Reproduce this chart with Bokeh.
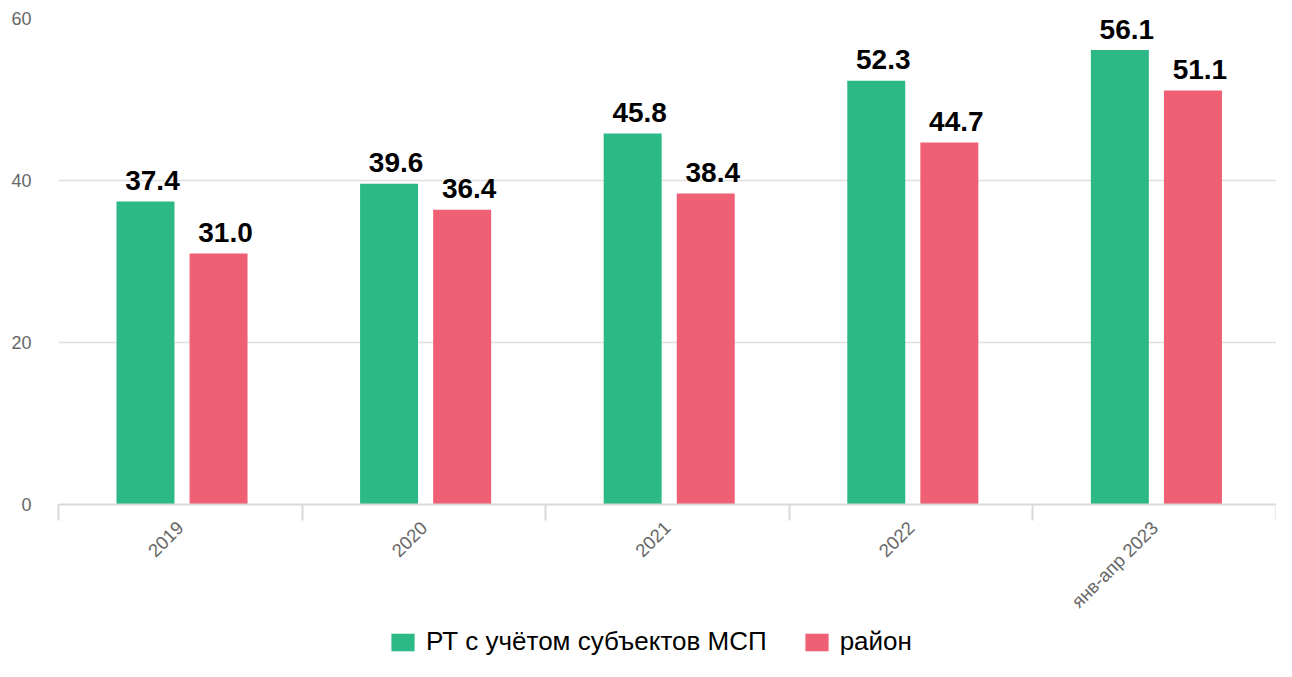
import math
from bokeh.plotting import figure
from bokeh.layouts import column
from bokeh.models import ColumnDataSource, FixedTicker, Legend, LegendItem, Range1d
from bokeh.core.properties import value
from bokeh.embed import file_html
from bokeh.resources import INLINE

categories = ["2019", "2020", "2021", "2022", "янв-апр 2023"]
rt_msp = [37.4, 39.6, 45.8, 52.3, 56.1]
rayon = [31.0, 36.4, 38.4, 44.7, 51.1]
series_names = ["РТ с учётом субъектов МСП", "район"]
y_ticks = [0, 20, 40, 60]

GREEN = "#2db986"
RED = "#ef6075"
FONT = "Liberation Sans"
W = 1276

n = len(categories)
centers = [i + 0.5 for i in range(n)]
boundaries = [float(i) for i in range(n + 1)]

src_g = ColumnDataSource(dict(x=[c - 0.143 for c in centers], top=rt_msp,
                              label=[f"{v:.1f}" for v in rt_msp]))
src_r = ColumnDataSource(dict(x=[c + 0.157 for c in centers], top=rayon,
                              label=[f"{v:.1f}" for v in rayon]))

p = figure(width=W, height=622, x_range=Range1d(0, n), y_range=Range1d(0, 60),
           output_backend="svg", toolbar_location=None,
           min_border_left=58, min_border_right=0, min_border_top=18, min_border_bottom=116)
p.outline_line_color = None
p.background_fill_color = "white"

r1 = p.vbar(x="x", top="top", bottom=0, width=0.238, source=src_g,
            fill_color=GREEN, line_color=None)
r2 = p.vbar(x="x", top="top", bottom=0, width=0.238, source=src_r,
            fill_color=RED, line_color=None)

for src in (src_g, src_r):
    p.text(x="x", y="top", text="label", source=src,
           text_font=value(FONT), text_font_style="bold", text_font_size="28px",
           text_align="center", text_baseline="alphabetic",
           x_offset=7, y_offset=-21, text_color="black")

# x axis
p.xaxis.ticker = FixedTicker(ticks=centers, minor_ticks=boundaries)
p.xaxis.major_label_overrides = {c: cat for c, cat in zip(centers, categories)}
p.xaxis.axis_line_color = "#d9d9d9"
p.xaxis.axis_line_width = 2
p.xaxis.major_tick_line_color = None
p.xaxis.major_tick_out = 16
p.xaxis.major_tick_in = 0
p.xaxis.minor_tick_line_color = "#d9d9d9"
p.xaxis.minor_tick_line_width = 2
p.xaxis.minor_tick_out = 16
p.xaxis.minor_tick_in = 0
p.xaxis.major_label_orientation = math.pi / 4
p.xaxis.major_label_standoff = 4
p.xaxis.major_label_text_font = FONT
p.xaxis.major_label_text_font_size = "18.5px"
p.xaxis.major_label_text_color = "#666666"

# y axis
p.yaxis.ticker = FixedTicker(ticks=y_ticks)
p.yaxis.axis_line_color = None
p.yaxis.major_tick_line_color = None
p.yaxis.minor_tick_line_color = None
p.yaxis.major_tick_out = 0
p.yaxis.major_label_standoff = 27
p.yaxis.major_label_text_font = FONT
p.yaxis.major_label_text_font_size = "18px"
p.yaxis.major_label_text_color = "#666666"

p.xgrid.grid_line_color = None
p.ygrid.ticker = FixedTicker(ticks=y_ticks)
p.ygrid.grid_line_color = "#e0e0e0"
p.ygrid.grid_line_width = 1.5

# legend strip (hidden renderers of the same data; legend drawn without inactive overlay)
lg = figure(width=W, height=39, x_range=Range1d(0, n), y_range=Range1d(0, 60),
            output_backend="svg", toolbar_location=None,
            x_axis_type=None, y_axis_type=None,
            min_border_left=0, min_border_right=0, min_border_top=0, min_border_bottom=0)
lg.outline_line_color = None
lg.xgrid.grid_line_color = None
lg.ygrid.grid_line_color = None
lr1 = lg.vbar(x="x", top="top", bottom=0, width=0.238, source=src_g,
              fill_color=GREEN, line_color=None, visible=False)
lr2 = lg.vbar(x="x", top="top", bottom=0, width=0.238, source=src_r,
              fill_color=RED, line_color=None, visible=False)
legend = Legend(items=[LegendItem(label=series_names[0], renderers=[lr1]),
                       LegendItem(label=series_names[1], renderers=[lr2])],
                orientation="horizontal", location=(330, 4),
                glyph_width=29, glyph_height=22,
                label_text_font=FONT, label_text_font_size="26px",
                label_text_color="black", label_standoff=9, spacing=35,
                border_line_color=None, background_fill_alpha=0,
                inactive_fill_alpha=0,
                padding=0, margin=0)
lg.add_layout(legend, "center")

layout = column(p, lg, spacing=0)
open("out.html", "w").write(file_html(layout, INLINE))
